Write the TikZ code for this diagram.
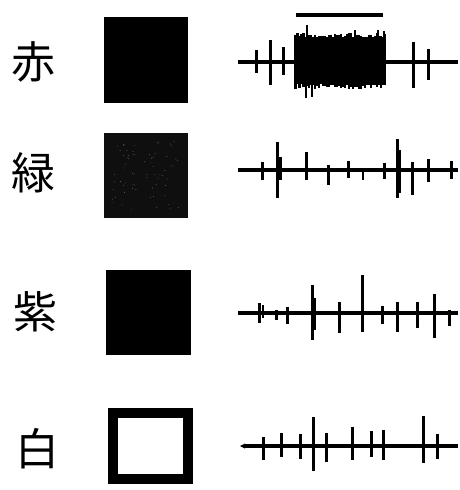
\documentclass[tikz,border=0pt]{standalone}
\usepackage{fontspec}
\newfontfamily\cjk{Noto Sans CJK JP}
\begin{document}
\begin{tikzpicture}[x=1pt,y=-1pt,
  colorlabel/.style={font=\cjk\fontsize{44}{44}\selectfont, inner sep=0pt},
  trace/.style={line width=3.6pt},
  spike/.style={line width=3pt},
  thinspike/.style={line width=2pt}]
\useasboundingbox (0,0) rectangle (459,490);

% labels
\node[colorlabel] (aka) at (34,62) {赤};
\node[colorlabel] (midori) at (34,173) {緑};
\node[colorlabel] (murasaki) at (35,312) {紫};
\node[colorlabel] (shiro) at (38,449) {白};

% swatches
\fill (104,17) rectangle (188,103);
\fill[black!94] (104,133) rectangle (188,218);
\pgfmathsetseed{11}
\foreach \i in {1,...,70}{
  \pgfmathsetmacro\px{112+68*rnd}
  \pgfmathsetmacro\py{141+70*rnd}
  \fill[black!60] (\px,\py) circle (0.45pt);
}
\fill (106,270) rectangle (191,355);
\draw[line width=10pt] (113,413) rectangle (188,479);

% ---- trace 1 (red) ----
\draw[line width=4pt] (296,15) -- (383,15);
\draw[trace] (238,62) -- (458,62);
\foreach \x/\a/\b in {256/50/73, 270/40/85, 283/47/75, 413/42/88, 428/49/80}
  \draw[spike] (\x,\a) -- (\x,\b);
\fill (295,37) rectangle (386,84);
\pgfmathsetseed{5}
\foreach \i in {0,...,45}{
  \pgfmathsetmacro\xx{295.5+1.98*\i}
  \pgfmathsetmacro\tt{33+5*rnd}
  \pgfmathsetmacro\bb{84+5*rnd}
  \draw[line width=2.2pt] (\xx,\tt) -- (\xx,\bb);
}
\draw[line width=1.8pt] (307,25) -- (307,40);
\draw[line width=1.8pt] (306,85) -- (306,98);
\draw[line width=1.8pt] (312,85) -- (312,97);
\draw[line width=1.8pt] (355,30) -- (355,40);
\draw[line width=1.8pt] (378,30) -- (378,40);
\draw[line width=2.2pt] (384,31) -- (384,40);

% ---- trace 2 (green) ----
\draw[trace] (238,170) -- (458,170);
\foreach \x/\a/\b in {262/162/180, 277/142/198, 306/152/180, 328/165/185, 348/161/178, 384/163/179, 397/139/198, 412/162/195, 428/159/182, 451/161/179}
  \draw[spike] (\x,\a) -- (\x,\b);
\draw[spike] (280,157) -- (280,180);
\draw[thinspike] (363,168) -- (363,180);
\draw[spike] (399,150) -- (399,193);

% ---- trace 3 (purple) ----
\draw[trace] (238,313) -- (458,313);
\foreach \x/\a/\b in {259/303/323, 276/310/320, 287/307/324, 312/285/340, 339/302/333, 362/275/332, 382/306/324, 397/302/332, 417/302/328, 434/294/338, 449/310/326}
  \draw[spike] (\x,\a) -- (\x,\b);
\draw[thinspike] (263,305) -- (263,318);
\draw[spike] (314,298) -- (314,330);

% ---- trace 4 (white) ----
\draw[trace] (244,446) -- (458,446);
\fill (240,446) -- (245,443.5) -- (245,448.5) -- cycle;
\foreach \x/\a/\b in {263/437/460, 281/433/457, 300/434/459, 313/417/471, 326/433/462, 352/427/460, 371/431/457, 383/430/460, 423/416/463, 437/434/459}
  \draw[spike] (\x,\a) -- (\x,\b);
\end{tikzpicture}
\end{document}
